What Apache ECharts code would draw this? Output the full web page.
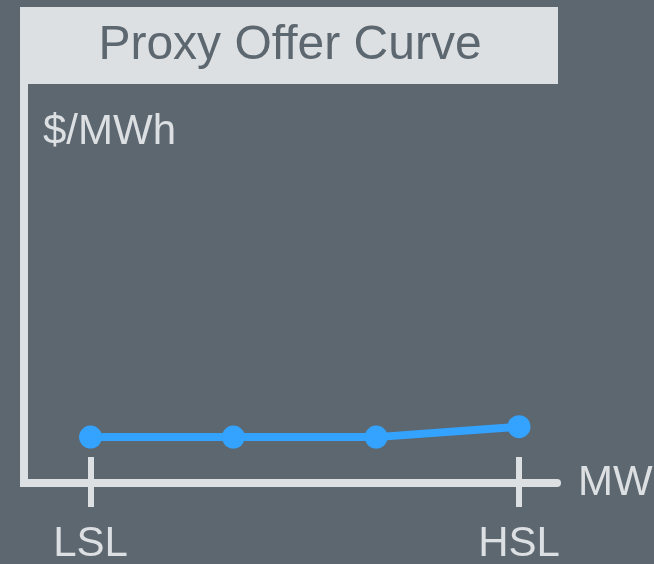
<!DOCTYPE html>
<html>
<head>
<meta charset="utf-8">
<script src="https://cdn.jsdelivr.net/npm/echarts@6/dist/echarts.min.js"></script>
<style>
  html, body { margin: 0; padding: 0; background: #5c6770; }
  #chart { width: 654px; height: 564px; }
</style>
</head>
<body>
<div id="chart"></div>
<script>
// x positions of the offer points (LSL .. HSL) and their prices
const xPoints = [0, 1, 2, 3];
const priceValues = [11.5, 11.5, 11.5, 14.1];
const xTickValues = [0, 3];
const xTickLabels = ['LSL', 'HSL'];

const bg = '#5c6770';
const light = '#dde0e3';
const blue = '#33a3ff';
const font = "'Liberation Sans', Arial, sans-serif";

const xMin = -0.466, xMax = 3.266;

let myChart = echarts.init(document.getElementById('chart'));
myChart.setOption({
  backgroundColor: bg,
  animation: false,
  graphic: [
    {
      type: 'rect',
      z: 100,
      shape: { x: 20, y: 7, width: 538, height: 77 },
      style: { fill: light }
    },
    {
      type: 'text',
      z: 101,
      x: 290,
      y: 46,
      style: {
        text: 'Proxy Offer Curve',
        fill: bg,
        font: '48px ' + font,
        align: 'center',
        verticalAlign: 'middle'
      }
    }
  ],
  grid: {
    left: 24,
    right: 97,
    top: 84,
    bottom: 81,
    outerBoundsMode: 'none'
  },
  xAxis: [
    {
      type: 'value',
      min: xMin,
      max: xMax,
      position: 'bottom',
      name: 'MW',
      nameLocation: 'end',
      nameGap: 21,
      nameTextStyle: { color: light, fontSize: 42, fontFamily: font },
      axisLine: { show: true, onZero: false, lineStyle: { color: light, width: 8 } },
      axisTick: {
        show: true,
        customValues: xTickValues,
        length: 24,
        lineStyle: { color: light, width: 6 }
      },
      axisLabel: {
        customValues: xTickValues,
        margin: 40,
        color: light,
        fontSize: 42,
        fontFamily: font,
        formatter: v => xTickLabels[xTickValues.indexOf(v)]
      },
      splitLine: { show: false }
    },
    {
      // upper half of the tick marks
      type: 'value',
      min: xMin,
      max: xMax,
      position: 'bottom',
      axisLine: { show: false, onZero: false },
      axisTick: {
        show: true,
        inside: true,
        customValues: xTickValues,
        length: 26,
        lineStyle: { color: light, width: 6 }
      },
      axisLabel: { show: false },
      splitLine: { show: false }
    }
  ],
  yAxis: {
    type: 'value',
    min: 0,
    max: 100,
    name: '$/MWh',
    nameLocation: 'end',
    nameGap: -48,
    nameTextStyle: {
      color: light,
      fontSize: 42,
      fontFamily: font,
      align: 'left',
      verticalAlign: 'middle',
      padding: [0, 0, 0, 19]
    },
    axisLine: { show: true, onZero: false, lineStyle: { color: light, width: 8, cap: 'square' } },
    axisTick: { show: false },
    axisLabel: { show: false },
    splitLine: { show: false }
  },
  series: [
    {
      type: 'line',
      xAxisIndex: 0,
      data: xPoints.map((x, i) => [x, priceValues[i]]),
      symbol: 'circle',
      symbolSize: 23,
      lineStyle: { color: blue, width: 8 },
      itemStyle: { color: blue }
    }
  ]
});
</script>
</body>
</html>
